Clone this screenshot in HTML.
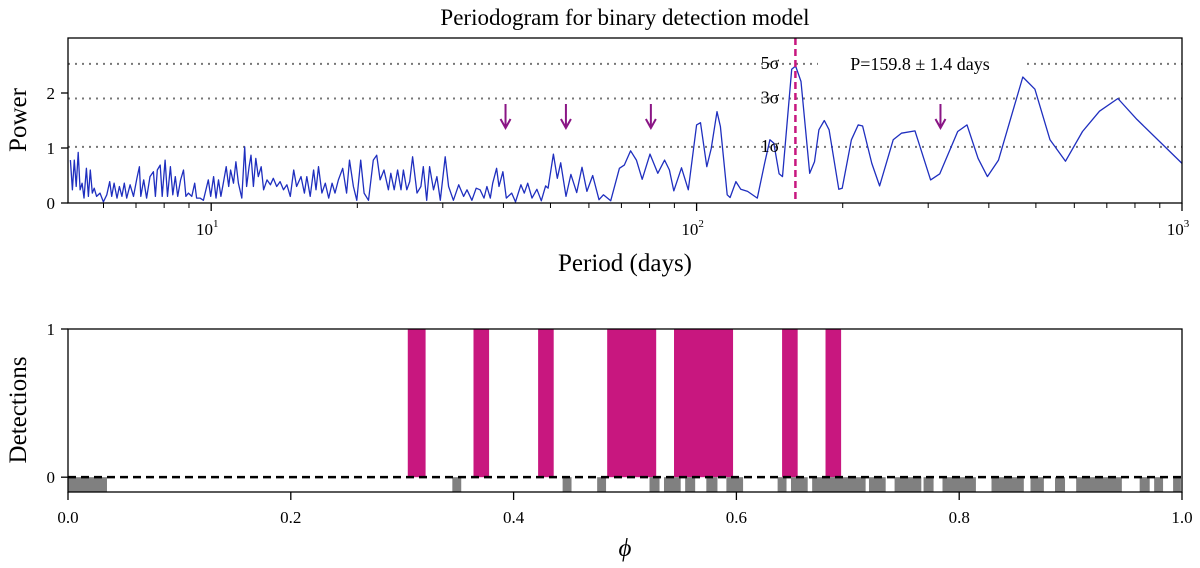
<!DOCTYPE html>
<html><head><meta charset="utf-8">
<style>
html,body{margin:0;padding:0;background:#fff;}
svg{display:block;font-family:"Liberation Serif","DejaVu Serif",serif;}
</style></head>
<body>
<svg id="fig" width="1200" height="568" viewBox="0 0 1200 568" xmlns="http://www.w3.org/2000/svg">
<text x="625" y="25" font-size="23" text-anchor="middle">Periodogram for binary detection model</text>
<g id="topPanel"></g>
<g id="botPanel"></g>
<text transform="translate(26,120) rotate(-90)" font-size="25" text-anchor="middle">Power</text>
<text x="625" y="271" font-size="25" text-anchor="middle">Period (days)</text>
<text transform="translate(26,410) rotate(-90)" font-size="25" text-anchor="middle">Detections</text>
<text x="625" y="556" font-size="25" font-style="italic" text-anchor="middle">ϕ</text>
</svg>
<script>
// ---- periodogram data (log10 period, power) ----
const logPeriods = [
0.710,0.714,0.718,0.722,0.726,0.730,0.734,0.738,0.743,0.747,0.751,0.755,0.759,0.764,0.771,0.778,0.785,0.791,0.795,0.800,
0.806,0.811,0.816,0.821,0.826,0.833,0.840,0.847,0.852,0.855,0.861,0.867,0.874,0.881,0.885,0.889,0.895,0.899,0.905,0.910,
0.916,0.921,0.926,0.931,0.937,0.943,0.948,0.953,0.960,0.966,0.970,0.977,0.984,0.994,0.999,1.005,1.010,1.015,1.020,1.025,
1.031,1.036,1.040,1.046,1.051,1.056,1.063,1.069,1.073,1.078,1.082,1.087,1.092,1.097,1.103,1.108,1.115,1.122,1.128,1.135,
1.142,1.149,1.156,1.163,1.170,1.176,1.185,1.192,1.197,1.204,1.211,1.216,1.221,1.228,1.235,1.242,1.249,1.255,1.262,1.271,
1.279,1.285,1.293,1.300,1.308,1.315,1.324,1.334,1.341,1.348,1.356,1.365,1.370,1.377,1.384,1.391,1.396,1.403,1.409,1.415,
1.424,1.432,1.437,1.444,1.450,1.458,1.465,1.472,1.482,1.489,1.499,1.510,1.520,1.527,1.537,1.546,
1.554,1.562,1.568,1.575,1.580,1.588,1.593,1.601,1.608,1.619,1.627,1.638,1.645,1.652,1.661,1.671,1.680,1.689,1.694,1.705,
1.713,1.720,1.731,1.741,1.753,1.764,1.774,1.786,1.799,1.808,1.823,1.841,1.851,1.864,1.876,1.888,1.904,1.920,1.934,1.944,
1.953,1.969,1.983,2.000,2.008,2.021,2.030,2.042,2.049,2.063,2.069,2.081,2.091,2.105,2.125,2.140,2.151,2.159,2.170,2.177,
2.196,2.204,2.215,2.233,2.243,2.252,2.263,2.273,2.293,2.300,2.319,2.333,2.342,2.361,2.377,2.405,2.422,2.450,2.482,2.501,
2.538,2.557,2.580,2.599,2.622,2.672,2.697,2.728,2.760,2.795,2.830,2.868,2.907,3.000];
const powers = [
0.78,0.24,0.78,0.30,0.92,0.24,0.36,0.09,0.63,0.12,0.60,0.18,0.27,0.12,0.18,0.02,0.15,0.39,0.12,0.36,
0.09,0.30,0.12,0.36,0.09,0.33,0.12,0.45,0.66,0.12,0.42,0.09,0.48,0.57,0.12,0.60,0.69,0.12,0.78,0.12,
0.66,0.15,0.48,0.12,0.42,0.60,0.12,0.18,0.12,0.36,0.09,0.09,0.05,0.42,0.12,0.48,0.09,0.42,0.12,0.36,
0.66,0.30,0.60,0.36,0.75,0.36,0.09,1.02,0.30,0.66,0.87,0.30,0.81,0.48,0.66,0.24,0.42,0.33,0.45,0.30,
0.39,0.24,0.33,0.12,0.60,0.30,0.48,0.18,0.48,0.12,0.60,0.24,0.66,0.18,0.36,0.09,0.36,0.18,0.42,0.63,
0.18,0.78,0.30,0.05,0.78,0.18,0.05,0.78,0.87,0.42,0.60,0.24,0.54,0.24,0.60,0.24,0.60,0.24,0.39,0.84,
0.18,0.30,0.66,0.05,0.66,0.24,0.48,0.05,0.84,0.30,0.05,0.33,0.12,0.24,0.05,0.27,
0.24,0.09,0.30,0.09,0.36,0.63,0.30,0.57,0.09,0.18,0.02,0.33,0.18,0.36,0.09,0.25,0.04,0.31,0.27,0.89,
0.45,0.73,0.12,0.52,0.19,0.65,0.21,0.50,0.06,0.15,0.04,0.63,0.69,0.95,0.78,0.43,0.89,0.54,0.78,0.60,
0.22,0.64,0.24,1.42,1.46,0.66,0.99,1.66,1.39,0.15,0.10,0.39,0.25,0.21,0.09,0.72,1.15,1.09,0.53,0.48,
2.43,2.49,2.21,0.54,0.75,1.33,1.50,1.33,0.25,0.27,1.15,1.42,1.40,0.72,0.31,1.15,1.27,1.31,0.42,0.53,
1.30,1.42,0.81,0.48,0.78,2.29,2.07,1.15,0.76,1.30,1.67,1.90,1.52,0.72];
const sigmaLevels = [1.02, 1.90, 2.53];
const sigmaLabels = ["1σ","3σ","5σ"];
const bestPeriod = 159.8;
const arrowPeriods = [40.4, 53.8, 80.5, 318];
const periodTicks = [10, 100, 1000];
const periodTickExp = ["1","2","3"];
const powerTicks = [0, 1, 2];
// ---- detections data ----
const detStart = [0.305,0.364,0.422,0.484,0.544,0.641,0.680];
const detEnd   = [0.321,0.378,0.436,0.528,0.597,0.655,0.694];
const nonStart = [0.000,0.345,0.444,0.475,0.522,0.535,0.554,0.573,0.591,0.637,0.649,0.668,0.719,0.742,0.768,0.785,0.829,0.864,0.886,0.905,0.962,0.975,0.992];
const nonEnd   = [0.035,0.353,0.452,0.483,0.531,0.550,0.563,0.583,0.606,0.645,0.664,0.716,0.734,0.766,0.777,0.815,0.858,0.876,0.895,0.946,0.971,0.983,0.999];
const phaseTicks = [0,0.2,0.4,0.6,0.8,1.0];
const phaseTickLabels = ["0.0","0.2","0.4","0.6","0.8","1.0"];
const detTicks = [0,1];

const NS="http://www.w3.org/2000/svg";
function mk(parent,tag,attrs){const e=document.createElementNS(NS,tag);for(const k in attrs)e.setAttribute(k,attrs[k]);parent.appendChild(e);return e;}

// top axes
const T={x0:68,x1:1182,y0:38,y1:203,lmin:Math.log10(5.07),lmax:3,pmax:3.0};
const tx=l=>T.x0+(l-T.lmin)/(T.lmax-T.lmin)*(T.x1-T.x0);
const ty=p=>T.y1-p/T.pmax*(T.y1-T.y0);
const topG=document.getElementById('topPanel');

sigmaLevels.forEach((s,i)=>{
  const l=mk(topG,'line',{x1:T.x0,x2:T.x1,y1:ty(s),y2:ty(s),stroke:'#777','stroke-width':2,'stroke-dasharray':'2,5'});
  
  
});
const bgRect=mk(topG,'rect',{x:818,y:ty(2.53)-12,width:205,height:22,fill:'#fff'});



let pathD='';
logPeriods.forEach((l,i)=>{pathD+=(i?'L':'M')+tx(l).toFixed(1)+','+ty(powers[i]).toFixed(1);});
const seriesPath=mk(topG,'path',{d:pathD,fill:'none',stroke:'#1f2fbf','stroke-width':1.3,'stroke-linejoin':'round'});



const bestX=tx(Math.log10(bestPeriod));
const bestLine=mk(topG,'line',{x1:bestX,x2:bestX,y1:T.y0,y2:T.y1,stroke:'#c8177f','stroke-width':2.5,'stroke-dasharray':'7,4'});



sigmaLabels.forEach((s,i)=>{
  const t=mk(topG,'text',{x:770,y:ty(sigmaLevels[i])+5,'font-size':18,'text-anchor':'middle'});
  t.textContent=s;
  
  
});
const pLabel=mk(topG,'text',{x:920,y:ty(2.53)+6,'font-size':18,'text-anchor':'middle'});
pLabel.textContent='P=159.8 ± 1.4 days';



arrowPeriods.forEach(p=>{
  const x=tx(Math.log10(p));
  const g=mk(topG,'g',{stroke:'#8a1585','stroke-width':2,fill:'none'});
  
  
  mk(g,'line',{x1:x,x2:x,y1:104,y2:128});
  mk(g,'path',{d:`M${x-5},119 L${x},128 L${x+5},119`});
});

const frame1=mk(topG,'rect',{x:T.x0,y:T.y0,width:T.x1-T.x0,height:T.y1-T.y0,fill:'none',stroke:'#000','stroke-width':1.3});



periodTicks.forEach((p,i)=>{
  const x=tx(Math.log10(p));
  mk(topG,'line',{x1:x,x2:x,y1:T.y1,y2:T.y1+8,stroke:'#000','stroke-width':1.3});
  const t=mk(topG,'text',{x:x-4,y:T.y1+32,'font-size':17,'text-anchor':'middle'});
  t.appendChild(document.createTextNode('10'));
  const sup=mk(t,'tspan',{'font-size':11,dy:-8});
  sup.textContent=periodTickExp[i];
  
  
});
for(let dec=0;dec<3;dec++){for(let m=2;m<=9;m++){const p=m*Math.pow(10,dec);if(Math.log10(p)<T.lmin)continue;const x=tx(Math.log10(p));
  mk(topG,'line',{x1:x,x2:x,y1:T.y1,y2:T.y1+5,stroke:'#000','stroke-width':1});}}
powerTicks.forEach(p=>{
  const y=ty(p);
  mk(topG,'line',{x1:T.x0-7,x2:T.x0,y1:y,y2:y,stroke:'#000','stroke-width':1.3});
  const t=mk(topG,'text',{x:T.x0-13,y:y+6,'font-size':17,'text-anchor':'end'});
  t.textContent=p;
  
  
});

// bottom axes
const B={x0:68,x1:1182,yTop:329,yBot:492,vmin:-0.1,vmax:1};
const bxs=v=>B.x0+v*(B.x1-B.x0);
const bys=v=>B.yBot-(v-B.vmin)/(B.vmax-B.vmin)*(B.yBot-B.yTop);
const botG=document.getElementById('botPanel');
detStart.forEach((s,i)=>{
  const r=mk(botG,'rect',{x:bxs(s),y:bys(1),width:bxs(detEnd[i])-bxs(s),height:bys(0)-bys(1),fill:'#c8177f'});
  
  
});
nonStart.forEach((s,i)=>{
  const r=mk(botG,'rect',{x:bxs(s),y:bys(0),width:bxs(nonEnd[i])-bxs(s),height:bys(-0.1)-bys(0),fill:'#808080'});
  
  
});
const zeroLine=mk(botG,'line',{x1:B.x0,x2:B.x1,y1:bys(0),y2:bys(0),stroke:'#000','stroke-width':2.5,'stroke-dasharray':'8,5'});


const frame2=mk(botG,'rect',{x:B.x0,y:B.yTop,width:B.x1-B.x0,height:B.yBot-B.yTop,fill:'none',stroke:'#000','stroke-width':1.3});


phaseTicks.forEach((v,i)=>{
  const x=bxs(v);
  mk(botG,'line',{x1:x,x2:x,y1:B.yBot,y2:B.yBot+8,stroke:'#000','stroke-width':1.3});
  const t=mk(botG,'text',{x:x,y:B.yBot+31,'font-size':17,'text-anchor':'middle'});
  t.textContent=phaseTickLabels[i];
  
  
});
detTicks.forEach(v=>{
  const y=bys(v);
  mk(botG,'line',{x1:B.x0-7,x2:B.x0,y1:y,y2:y,stroke:'#000','stroke-width':1.3});
  const t=mk(botG,'text',{x:B.x0-13,y:y+6,'font-size':17,'text-anchor':'end'});
  t.textContent=v;
  
  
});
</script>
</body></html>
